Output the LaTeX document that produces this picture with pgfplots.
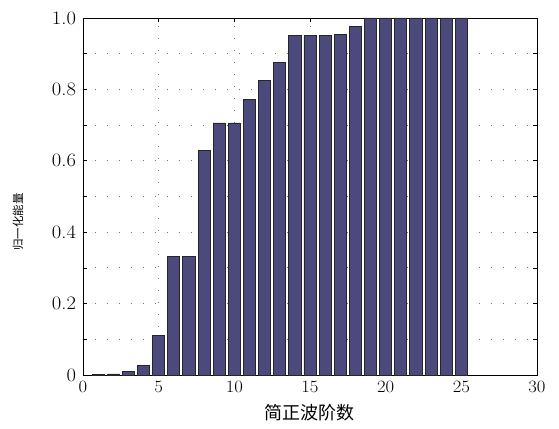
\documentclass[border=0pt]{standalone}
\usepackage{pgfplots}
\pgfplotsset{compat=1.18}
\usepackage{fontspec}
\newfontfamily\cjk{Noto Sans CJK SC}
\definecolor{barfill}{RGB}{76,74,124}
\begin{document}
\begin{tikzpicture}
\begin{axis}[
  scale only axis,
  width=454pt, height=357pt,
  xmin=0, xmax=30, ymin=0, ymax=1,
  xtick={0,5,...,30},
  ytick={0,0.1,...,1.0},
  yticklabels={0,,0.2,,0.4,,0.6,,0.8,,1.0},
  tick align=inside,
  major tick length=4pt,
  tick style={black, line width=0.6pt},
  axis line style={black, line width=0.9pt},
  grid=major,
  major grid style={black!55, line width=0.9pt, dash pattern=on 1pt off 11pt},
  ticklabel style={font=\fontsize{19}{20}\selectfont, xscale=1.08},
  xticklabel style={yshift=-3pt},
  yticklabel style={xshift=-3pt},
  xlabel={\cjk\fontsize{18}{20}\selectfont 简正波阶数},
  ylabel={\cjk\fontsize{11.5}{13}\selectfont 归一化能量},
  every axis x label/.style={at={(axis description cs:0.5,-0.1065)}, anchor=center},
  every axis y label/.style={at={(axis description cs:-0.143,0.4286)}, anchor=center, rotate=90},
  clip=false,
]
\addplot[ybar, bar width=0.8, fill=barfill, draw=black!85, line width=0.8pt] coordinates {
(1,0.001) (2,0.003) (3,0.010) (4,0.027) (5,0.112)
(6,0.333) (7,0.333) (8,0.630) (9,0.706) (10,0.706)
(11,0.772) (12,0.826) (13,0.876) (14,0.951) (15,0.951)
(16,0.951) (17,0.955) (18,0.977) (19,1.0) (20,1.0)
(21,1.0) (22,1.0) (23,1.0) (24,1.0) (25,1.0)
};
\coordinate (bl) at (rel axis cs:-0.1828,-0.1485);
\coordinate (tr) at (rel axis cs:1.0485,1.0504);
\end{axis}
\pgfresetboundingbox
\path[use as bounding box] (bl) rectangle (tr);
\end{tikzpicture}
\end{document}
